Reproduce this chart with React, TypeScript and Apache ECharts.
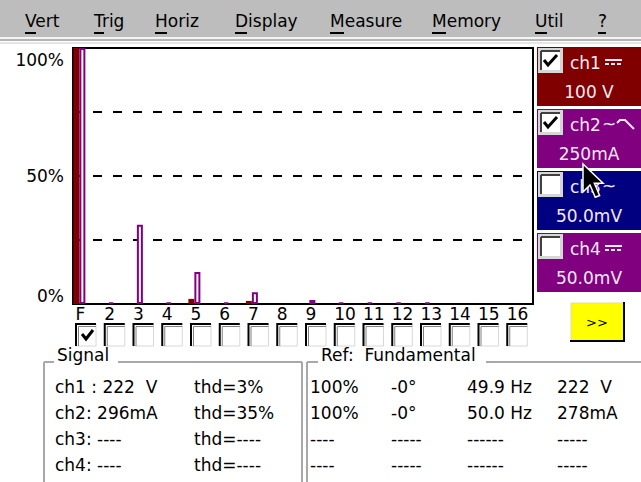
import React, { useEffect, useRef } from 'react';
import * as echarts from 'echarts';

// ---------- data ----------
const harmonics = ['F', '2', '3', '4', '5', '6', '7', '8', '9', '10', '11', '12', '13', '14', '15', '16'];
const ch1Values = [100, 0, 0, 0, 2, 0, 1.2, 0, 0, 0, 0, 0, 0, 0, 0, 0];
const ch2Values = [100, 0.6, 31, 0.6, 12.5, 0.6, 4.6, 0, 1.6, 0.6, 0.6, 0.6, 0.6, 0, 0, 0];
const harmonicChecked = [1, 0, 0, 0, 0, 0, 0, 0, 0, 0, 0, 0, 0, 0, 0, 0];
const yLabelValues = [0, 50, 100];
const yTickLabels = ['0%', '50%', '100%'];

const menuItems = ['Vert', 'Trig', 'Horiz', 'Display', 'Measure', 'Memory', 'Util', '?'];

const channelNames = ['ch1', 'ch2', 'ch3', 'ch4'];
const channelScales = ['100 V', '250mA', '50.0mV', '50.0mV'];
const channelCoupling = ['dc', 'lp', 'ac', 'dc'];
const channelEnabled = [true, true, false, false];

const signalLabels = ['ch1 : 222  V', 'ch2: 296mA', 'ch3: ----', 'ch4: ----'];
const thdLabels = ['thd=3%', 'thd=35%', 'thd=----', 'thd=----'];
const refLevel = ['100%', '100%', '----', '----'];
const refPhase = ['-0°', '-0°', '-----', '-----'];
const refFreq = ['49.9 Hz', '50.0 Hz', '------', '------'];
const refValue = ['222  V', '278mA', '-----', '-----'];

// ---------- styling / layout ----------
const FONT = 'DejaVu Sans';
const menuX = [25, 94, 155, 235, 330, 432, 535, 598];
const menuFirstW = [11, 10, 12, 12, 14, 14, 12, 8];
const channelColors = ['#800000', '#800080', '#000080', '#800080'];
const rowsY = [387, 413, 439, 465];

function txt(x: number, y: number, text: string, opts: any = {}) {
  return {
    type: 'text',
    x,
    y,
    z: opts.z ?? 10,
    style: {
      text,
      fill: opts.fill ?? '#000',
      fontSize: opts.size ?? 17,
      fontFamily: FONT,
      textAlign: opts.align ?? 'left',
      align: opts.align ?? 'left',
      textVerticalAlign: 'middle',
      verticalAlign: 'middle',
    },
  };
}
function line(x1: number, y1: number, x2: number, y2: number, stroke: string, lineWidth = 1, extra: any = {}) {
  return {
    type: 'line',
    z: extra.z ?? 10,
    shape: { x1, y1, x2, y2 },
    style: { stroke, lineWidth, lineDash: extra.dash },
  };
}
function rect(x: number, y: number, width: number, height: number, fill: string, extra: any = {}) {
  return {
    type: 'rect',
    z: extra.z ?? 5,
    shape: { x, y, width, height },
    style: { fill, stroke: extra.stroke, lineWidth: extra.lineWidth },
  };
}

function checkbox(x: number, y: number, checked: boolean) {
  const els: any[] = [
    rect(x, y, 25, 25, '#d6d6d6', { z: 11 }),
    rect(x + 3, y + 3, 19, 19, '#ffffff', { z: 12 }),
    line(x + 3, y + 3, x + 22, y + 3, '#404040', 2, { z: 13 }),
    line(x + 3, y + 3, x + 3, y + 22, '#404040', 2, { z: 13 }),
  ];
  if (checked) {
    els.push({
      type: 'polyline',
      z: 14,
      shape: { points: [[x + 6, y + 12], [x + 10, y + 17], [x + 19, y + 7]] },
      style: { stroke: '#000', lineWidth: 3, fill: null },
    });
  }
  return els;
}

function buildGraphic() {
  const g: any[] = [];
  // menu bar
  g.push(rect(0, 0, 641, 37, '#bdbdbd', { z: 1 }));
  g.push(rect(0, 37, 641, 2, '#f4f4f4', { z: 1 }));
  g.push(rect(0, 39, 641, 2, '#b4b4b4', { z: 1 }));
  g.push(rect(0, 42, 641, 2, '#e6e6e6', { z: 1 }));
  menuItems.forEach((m, i) => {
    g.push(txt(menuX[i], 21, m));
    g.push(line(menuX[i], 33, menuX[i] + menuFirstW[i], 33, '#000', 2));
  });

  // channel panel
  channelNames.forEach((name, i) => {
    const top = 47 + i * 62;
    const col = channelColors[i];
    g.push(rect(537, top, 104, 59, col, { z: 5 }));
    g.push(...checkbox(538, top + 1, channelEnabled[i]));
    g.push(txt(570, top + 16, name, { fill: '#f4e8f4' }));
    const sx = 603;
    const sy = top + 15;
    const c = channelCoupling[i];
    if (c === 'dc') {
      g.push(line(sx + 2, sy - 2, sx + 19, sy - 2, '#f4e8f4', 2, { z: 12 }));
      g.push(line(sx + 2, sy + 2, sx + 19, sy + 2, '#f4e8f4', 2, { z: 12, dash: [4, 2] }));
    } else {
      g.push(txt(sx - 1, sy, '~', { fill: '#f4e8f4' }));
      if (c === 'lp') {
        g.push({
          type: 'polyline',
          z: 12,
          shape: { points: [[sx + 14, sy - 1], [sx + 17, sy - 4], [sx + 22, sy - 4], [sx + 31, sy + 5]] },
          style: { stroke: '#f4e8f4', lineWidth: 2, fill: null },
        });
      }
    }
    g.push(txt(589, top + 45, channelScales[i], { fill: '#f4e8f4', align: 'center' }));
  });

  // yellow button
  g.push(rect(571, 303, 53, 38, '#ffff00', { z: 5 }));
  g.push(line(571, 303, 624, 303, '#e0e0a0', 1));
  g.push(line(571, 303, 571, 341, '#e0e0a0', 1));
  g.push(line(624, 302, 624, 342, '#000', 2));
  g.push(line(570, 341, 625, 341, '#000', 2));
  g.push(txt(597, 322, '>>', { size: 13, align: 'center' }));

  // group boxes
  const boxC = '#a8a8a8';
  g.push(line(44, 362, 302, 362, boxC, 2, { z: 6 }));
  g.push(line(44, 362, 44, 490, boxC, 2, { z: 6 }));
  g.push(line(302, 362, 302, 490, boxC, 2, { z: 6 }));
  g.push(rect(54, 348, 64, 16, '#ffffff', { z: 7 }));
  g.push(txt(57, 355, 'Signal'));
  g.push(line(307, 362, 650, 362, boxC, 2, { z: 6 }));
  g.push(line(307, 362, 307, 490, boxC, 2, { z: 6 }));
  g.push(rect(318, 348, 168, 16, '#ffffff', { z: 7 }));
  g.push(txt(321, 355, 'Ref:  Fundamental'));

  rowsY.forEach((y, r) => {
    g.push(txt(55, y, signalLabels[r]));
    g.push(txt(194, y, thdLabels[r]));
    g.push(txt(310, y, refLevel[r]));
    g.push(txt(391, y, refPhase[r]));
    g.push(txt(467, y, refFreq[r]));
    g.push(txt(557, y, refValue[r]));
  });

  // mouse cursor
  const cx = 583;
  const cy = 164;
  const s = 1.75;
  const pts = [[0, 0], [0, 16], [4, 12], [7, 19], [9.5, 18], [6.5, 11], [11.5, 11]].map(([px, py]) => [cx + px * s, cy + py * s]);
  g.push({ type: 'polygon', z: 50, shape: { points: pts }, style: { fill: '#000', stroke: '#fff', lineWidth: 1.5 } });
  return g;
}

export default function App() {
  const ref = useRef<HTMLDivElement>(null);
  useEffect(() => {
    if (!ref.current) return;
    const chart = echarts.init(ref.current, undefined, { renderer: 'svg' });
    const option: any = {
      animation: false,
      backgroundColor: '#ffffff',
      textStyle: { fontFamily: FONT },
      grid: {
        left: 73,
        top: 48,
        width: 460,
        height: 256,
        show: true,
        borderColor: '#000',
        borderWidth: 2,
        backgroundColor: '#fff',
      },
      xAxis: {
        type: 'category',
        data: harmonics,
        axisLine: { lineStyle: { color: '#000', width: 2 } },
        axisTick: { inside: true, length: 5, lineStyle: { color: '#000', width: 1.5 } },
        axisLabel: {
          interval: 0,
          margin: 1,
          color: '#000',
          formatter: (v: string) => `{h|${v}}`,
          rich: {
            h: { width: 24, align: 'left', fontSize: 17, fontFamily: FONT, color: '#000', lineHeight: 18 },
          },
        },
        splitLine: { show: false },
      },
      yAxis: {
        type: 'value',
        min: 0,
        max: 100,
        interval: 25,
        axisLine: { show: true, lineStyle: { color: '#000', width: 2 } },
        axisTick: { show: false },
        splitLine: { lineStyle: { type: [9, 11], color: '#000', width: 2 } },
        axisLabel: {
          margin: 9,
          color: '#000',
          formatter: (v: number) => {
            const k = yLabelValues.indexOf(v);
            if (k < 0) return '';
            const st = v === 100 ? 't' : v === 0 ? 'b' : 'm';
            return `{${st}|${yTickLabels[k]}}`;
          },
          rich: {
            t: { fontSize: 17, fontFamily: FONT, color: '#000', padding: [24, 0, 0, 0] },
            m: { fontSize: 17, fontFamily: FONT, color: '#000' },
            b: { fontSize: 17, fontFamily: FONT, color: '#000', padding: [0, 0, 16, 0] },
          },
        },
      },
      series: [
        {
          type: 'bar',
          name: 'ch1',
          data: ch1Values.map((v) => (v === 0 ? null : v)),
          barWidth: 6,
          itemStyle: { color: '#800000' },
        },
        {
          type: 'bar',
          name: 'ch2',
          data: ch2Values.map((v) => (v === 0 ? null : v)),
          barWidth: 6,
          itemStyle: { color: '#ffffff', borderColor: '#800080', borderWidth: 2 },
        },
        {
          type: 'bar',
          name: 'spacer',
          data: harmonics.map(() => null),
          barWidth: 16,
          barGap: 0,
          silent: true,
        },
        {
          type: 'custom',
          name: 'select',
          clip: false,
          z: 5,
          data: harmonics.map((h, i) => [i, harmonicChecked[i]]),
          renderItem: (params: any, api: any) => {
            const i = api.value(0);
            const checked = api.value(1);
            const c = api.coord([i, 0]);
            const bw = api.size([1, 0])[0];
            const left = c[0] - bw / 2 + 3;
            const top = c[1] + 20;
            const children: any[] = [
              { type: 'polyline', shape: { points: [[left + 20, top + 22], [left + 20, top], ] }, style: { stroke: '#d8d8d8', lineWidth: 1, fill: null } },
              { type: 'polyline', shape: { points: [[left, top + 22], [left + 20, top + 22]] }, style: { stroke: '#d8d8d8', lineWidth: 1, fill: null } },
              { type: 'polyline', shape: { points: [[left, top + 22], [left, top], [left + 20, top]] }, style: { stroke: '#000', lineWidth: 2, fill: null } },
              { type: 'polyline', shape: { points: [[left + 2.5, top + 22], [left + 2.5, top + 2.5], [left + 20, top + 2.5]] }, style: { stroke: '#808080', lineWidth: 1, fill: null } },
            ];
            if (checked) {
              children.push({
                type: 'polyline',
                shape: { points: [[left + 6, top + 10], [left + 10, top + 15], [left + 17, top + 6]] },
                style: { stroke: '#000', lineWidth: 3, fill: null },
              });
            }
            return { type: 'group', children };
          },
        },
      ],
      graphic: buildGraphic(),
    };
    chart.setOption(option);
    return () => chart.dispose();
  }, []);
  return <div ref={ref} style={{ position: 'fixed', left: 0, top: 0, width: 641, height: 482 }} />;
}
